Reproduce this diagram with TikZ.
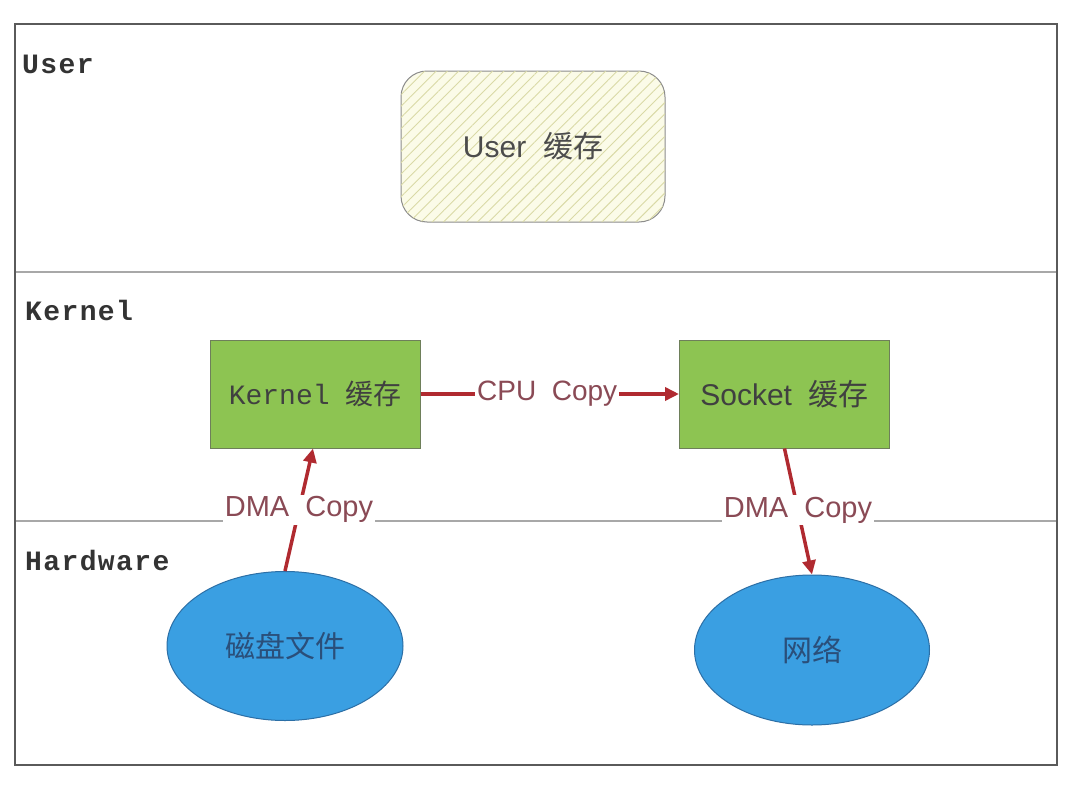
\documentclass[tikz,border=0pt]{standalone}
\usepackage{fontspec}
\setmainfont{Liberation Sans}
\newfontfamily\cjk{Noto Sans CJK SC}
\newfontfamily\mono{Liberation Mono}
\newfontfamily\monob[LetterSpace=5]{Liberation Mono}
\usetikzlibrary{shapes.geometric,patterns.meta,arrows.meta}
\definecolor{frame}{HTML}{5A5A5A}
\definecolor{sep}{HTML}{A8A8A8}
\definecolor{greenfill}{HTML}{8DC452}
\definecolor{greenline}{HTML}{6E7F5A}
\definecolor{bluefill}{HTML}{3A9FE2}
\definecolor{blueline}{HTML}{2C6FA6}
\definecolor{bluetext}{HTML}{2A4F7A}
\definecolor{arrowred}{HTML}{B02A30}
\definecolor{labeltext}{HTML}{8A4A55}
\definecolor{hatchbg}{HTML}{FBFBE8}
\definecolor{hatchline}{HTML}{D9D9A6}
\tikzset{
  layerlabel/.style={anchor=west,font=\monob\bfseries\fontsize{28}{28}\selectfont,text=black!80,inner sep=0pt},
  gbox/.style={draw=greenline,line width=1pt,fill=greenfill,minimum width=210pt,minimum height=108pt},
  disc/.style={ellipse,draw=blueline,line width=1pt,fill=bluefill,text=bluetext,font=\cjk\fontsize{30}{30}\selectfont},
  flow/.style={draw=arrowred,line width=3.5pt,-{Triangle[length=14pt,width=13pt]}},
  flowlabel/.style={fill=white,text=labeltext,font=\fontsize{29}{29}\selectfont,inner sep=2pt}
}
\begin{document}
\begin{tikzpicture}[x=1pt,y=-1pt]
\useasboundingbox (0,0) rectangle (1080,790);
\fill[white] (0,0) rectangle (1080,790);
% layers
\coordinate (tl) at (15,24);
\coordinate (br) at (1057,765);
\coordinate (s1l) at (15,272);
\coordinate (s1r) at (1057,272);
\coordinate (s2l) at (15,521);
\coordinate (s2r) at (1057,521);
\draw[sep,line width=1.5pt] (s1l) -- (s1r);
\draw[sep,line width=1.5pt] (s2l) -- (s2r);
\draw[frame,line width=2.5pt] (tl) rectangle (br);
\node[layerlabel] (luser) at (22,64) {User};
\node[layerlabel] (lkernel) at (25,310) {Kernel};
\node[layerlabel] (lhw) at (25,560) {Hardware};
% user buffer
\node[draw=black!45,line width=1pt,rounded corners=26pt,fill=hatchbg,
  postaction={pattern={Lines[angle=45,distance=8pt,line width=0.9pt]},pattern color=hatchline},
  minimum width=264pt,minimum height=151pt,text=black!70,
  font=\fontsize{30}{30}\selectfont] (ubuf) at (533,146.5) {User\ \ {\cjk 缓存}};
% kernel buffers
\node[gbox,font=\fontsize{28}{28}\selectfont,text=black!75] (kbuf) at (315,394) {{\mono Kernel}\ \ {\cjk 缓存}};
\node[gbox,font=\fontsize{30}{30}\selectfont,text=black!75] (sbuf) at (784.5,394) {Socket\ \ {\cjk 缓存}};
% hardware
\node[disc,minimum width=236pt,minimum height=149pt] (disk) at (285,646) {磁盘文件};
\node[disc,minimum width=235pt,minimum height=150pt] (net) at (812,650) {网络};
% flows
\draw[flow] (kbuf.east) -- node[flowlabel,pos=0.49,font=\fontsize{28}{28}\selectfont] (cpu) {CPU\ \ Copy} (sbuf.west);
\draw[flow] (disk.north) -- node[flowlabel,pos=0.5] (dma1) {DMA\ \ Copy} ([xshift=-2pt]kbuf.south);
\draw[flow] (sbuf.south) -- node[flowlabel,pos=0.49] (dma2) {DMA\ \ Copy} (net.north);
\end{tikzpicture}
\end{document}
